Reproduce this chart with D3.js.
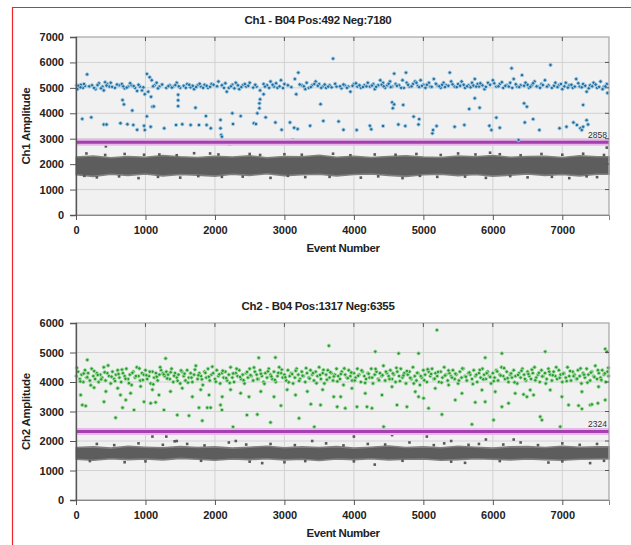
<!DOCTYPE html>
<html>
<head>
<meta charset="utf-8">
<script src="https://cdn.jsdelivr.net/npm/d3@7"></script>
<style>
  body { margin: 0; background: #fff; }
  svg { display: block; }
  text { font-family: "Liberation Sans", Arial, sans-serif; }
</style>
</head>
<body>
<div id="chart"></div>
<script>
// ---- data ----
const totalEvents = 7672;
const xTicks = [0, 1000, 2000, 3000, 4000, 5000, 6000, 7000];
const ch1YTicks = [0, 1000, 2000, 3000, 4000, 5000, 6000, 7000];
const ch2YTicks = [0, 1000, 2000, 3000, 4000, 5000, 6000];

const ch1Title = "Ch1 - B04 Pos:492 Neg:7180";
const ch2Title = "Ch2 - B04 Pos:1317 Neg:6355";
const ch1Threshold = 2858;
const ch2Threshold = 2324;

// negative droplet band, one value per 250 events
const negBinSize = 250;
const ch1NegHigh = [2280,2320,2250,2300,2270,2340,2290,2260,2310,2280,2330,2250,2300,2290,2350,2270,2310,2260,2300,2330,2280,2260,2320,2290,2340,2270,2300,2310,2260,2330,2290];
const ch1NegLow  = [1580,1520,1600,1560,1610,1540,1590,1570,1530,1600,1560,1620,1550,1580,1600,1540,1590,1610,1560,1520,1580,1600,1550,1590,1530,1570,1610,1560,1590,1540,1600];
const ch2NegHigh = [1780,1800,1760,1820,1790,1770,1810,1780,1800,1760,1790,1820,1770,1800,1780,1810,1760,1790,1830,1780,1800,1770,1820,1790,1760,1800,1810,1780,1820,1790,1800];
const ch2NegLow  = [1380,1350,1400,1370,1390,1360,1410,1380,1350,1390,1370,1400,1360,1380,1340,1390,1370,1400,1360,1380,1390,1350,1370,1400,1380,1360,1390,1370,1350,1380,1390];

// stray negative droplets [event, amplitude]
const ch1NegOut = [[430,2700],[2210,2780],[2330,2900],[3120,2950],[1930,2420],[3480,2900],[5960,2450],[6340,2900],[7640,2650],
  [300,1480],[900,1450],[1500,1470],[2100,1500],[2800,1460],[3300,1490],[4100,1470],[4700,1450],[5200,1500],[5900,1460],[6500,1480],[7100,1450],[7500,1490],
  [120,1540],[620,1520],[1180,1500],[1760,1530],[2400,1510],[3050,1540],[3650,1500],[4350,1520],[4950,1540],[5600,1510],[6250,1530],[6850,1500],[7350,1520],
  [150,2420],[700,2400],[1200,2380],[1700,2430],[2500,2400],[3000,2390],[3700,2410],[4300,2380],[4900,2400],[5500,2420],[6100,2390],[6700,2400],[7300,2410],
  [420,2360],[980,2370],[1450,2350],[2050,2380],[2650,2360],[3250,2370],[3950,2350],[4600,2370],[5250,2360],[5750,2380],[6400,2350],[7000,2370],[7600,2360]];
const ch2NegOut = [[1100,2150],[1300,2150],[1420,1990],[1450,2000],[2300,2000],[3400,2000],[4000,2150],[4550,2200],[5050,2150],[5400,2000],[5900,2050],[6300,2050],
  [2680,1250],[3000,1280],[4300,1200],[700,1280],[5600,1260],[6800,1270],[7400,1250],
  [300,1900],[900,1920],[1600,1900],[2200,1950],[2800,1900],[3600,1920],[4200,1900],[4800,1950],[5300,1920],[5800,1900],[6400,1950],[7000,1920],[7500,1900],
  [550,1860],[1250,1870],[1850,1850],[2450,1880],[3150,1860],[3850,1850],[4450,1880],[5150,1860],[5650,1870],[6150,1880],[6650,1860],[7250,1870],
  [200,1320],[1000,1310],[1800,1330],[2500,1300],[3300,1320],[4000,1310],[4700,1330],[5400,1300],[6100,1320],[7000,1310],[7600,1330]];

// positive droplets, channel 1 [event, amplitude]
const ch1Pos = [
  [10,5100],[40,5050],[70,5120],[100,5000],[130,5080],[20,4950],[160,5530],
  [230,5100],[280,4950],[330,5180],[380,5050],[420,5220],[450,5150],[480,5050],[500,5200],[400,4900],
  [560,5000],[620,5100],[660,5150],[700,4980],[750,5050],[800,5100],[850,5000],[880,4880],[920,5050],[950,4900],[990,4750],
  [1020,5550],[1060,5420],[1090,5300],[1130,5100],[1160,5200],[1200,5050],[1040,4850],[1080,4650],
  [1300,5000],[1350,5100],[1400,5050],[1450,5200],[1500,5000],[1550,5080],[1600,5150],[1650,5020],[1700,4950],[1750,5100],[1800,5050],[1850,5120],[1900,5000],[1950,5150],
  [2050,5250],[2100,5100],[2150,5180],[2200,5000],[2250,5120],[2300,5200],[2350,4950],[2400,5100],[2450,5050],[2500,5200],[2170,4850],
  [2600,5050],[2650,4900],[2700,5150],[2750,5100],[2800,5250],[2850,5050],[2900,5000],[2950,5300],[3000,5150],[2700,4750],[2650,4550],
  [3150,5350],[3200,5600],[3250,5100],[3300,4950],[3350,5000],[3400,5100],[3450,5250],[3500,5150],[3550,5050],[3600,5000],[3650,5100],[3700,6150],[3750,5050],[3170,4750],
  [90,3780],[220,3840],[400,3560],[440,3560],[640,3610],[740,3570],[825,3540],[880,3350],[980,3510],[990,3340],[1075,3470],
  [670,4520],[690,4350],[810,4110],[1020,3880],[1100,4260],[1120,4270],[1270,3410],[1440,3540],[1530,3570],
  [1470,4730],[1470,4510],[1470,4280],[1650,3540],[1720,4220],[1770,3540],[1870,3890],[1880,3540],[1940,3410],
  [2080,3740],[2080,3410],[2090,3150],[2100,3080],[2250,4000],[2260,3580],[2370,3890],[2560,3610],[2590,3580],
  [2610,4000],[2640,4390],[2640,4200],[2730,3840],[2870,3640],[2960,3350],[3080,3640],[3140,3430],[3190,3380],
  [3370,3510],[3520,4360],[3560,3700],[3780,3680],
  [3820,4980],[3870,5100],[3920,5050],[3950,4850],[4000,5150],[4050,5050],[4100,5000],[4150,5100],[4200,5200],[4230,5050],
  [4280,5150],[4300,4950],[4350,5100],[4380,5300],[4420,5200],[4450,5000],[4480,5100],[4520,5250],[4550,5050],[4580,5560],
  [4600,5150],[4650,5100],[4700,5300],[4720,5000],[4750,5600],[4760,5200],[4800,5050],[4850,5150],[4880,5250],[4920,5080],
  [4960,5300],[5000,5120],[5030,5000],[5080,5200],[5100,5050],[5150,5350],[5200,5100],[5250,5000],[5290,5200],[5330,5100],
  [5380,5600],[5400,5250],[5450,5050],[5500,5150],[5550,5250],[5600,5000],[5650,5100],[5700,5200],[5740,5350],[5780,5150],
  [5800,5050],[5850,5100],[5880,4950],[5930,5200],[6000,5300],[6050,5050],[6100,5150],[6150,5000],[6200,5100],[6250,5200],
  [6300,5350],[6350,5050],[6400,5100],[6420,5500],[6470,5200],[6520,5000],[6560,5100],[6600,5250],[6650,5050],[6700,5150],
  [6750,5300],[6800,5100],[6830,5900],[6850,5000],[6900,5200],[6950,5100],[7000,4950],[7050,5200],[7100,5100],[7150,5000],
  [7200,5350],[7250,5050],[7300,5150],[7350,4850],[7400,5100],[7450,5200],[7500,5000],[7550,5250],[7600,5050],[7640,5150],[7650,4800],
  [4550,4430],[4580,4350],[4710,4330],[4560,4200],[5740,4590],[5660,4170],[5810,4220],[6270,5770],[6450,4390],[6490,4260],[7300,4330],
  [3850,3350],[4040,3340],[4230,3510],[4250,3370],[4420,3500],[4640,3560],[4740,3500],[4860,3870],[4940,3770],[4930,3560],
  [5130,3210],[5140,3340],[5190,3500],[5450,3470],[5590,3540],[5950,3510],[5980,3340],[6050,3830],[6100,3430],[6370,2950],
  [6460,3640],[6580,3770],[6670,3340],[6960,3410],[7060,3470],[7160,3640],[7210,3540],[7260,3410],[7300,3470],[7350,3730],[7370,3560],[7280,3340],
  // second pass through the dense 5000 cluster
  [35,5080],[65,5020],[115,5150],[190,5060],[260,5000],[310,5110],[360,4980],[440,5090],[520,5040],[590,5130],[680,5060],[730,5010],
  [780,5180],[830,5070],[900,5120],[970,5020],[1110,5060],[1180,4980],[1240,5130],[1330,5070],[1380,5010],[1430,5110],[1480,5060],
  [1580,5000],[1630,5120],[1680,5080],[1730,5030],[1780,5160],[1830,5000],[1880,5080],[1930,5040],[1980,5120],[2030,5060],[2130,5000],
  [2230,5060],[2280,4980],[2330,5100],[2380,5030],[2430,5150],[2480,5080],[2550,5010],[2580,5120],[2720,5050],[2780,5000],[2830,5120],
  [2880,5180],[2930,5060],[2980,4990],[3050,5100],[3100,5030],[3220,5130],[3280,5060],[3320,5200],[3380,5030],[3430,5150],[3480,5080],
  [3530,5000],[3580,5130],[3630,5050],[3680,5020],[3730,5160],[3800,5060],[3850,5130],[3900,5000],[3980,5080],[4030,5180],[4080,5100],
  [4130,5030],[4180,5060],[4260,5090],[4320,5040],[4400,5120],[4430,5060],[4500,5160],[4530,5030],[4620,5080],[4680,5000],[4780,5120],
  [4830,5060],[4900,5200],[4940,5030],[4980,5080],[5050,5120],[5120,5040],[5180,5160],[5230,5060],[5270,5120],[5310,5030],[5360,5080],
  [5420,5140],[5480,5030],[5530,5080],[5580,5120],[5630,5060],[5680,5020],[5720,5090],[5760,5050],[5820,5180],[5900,5040],[5960,5120],
  [6020,5180],[6080,5060],[6130,5220],[6180,5080],[6230,5050],[6280,5000],[6330,5140],[6380,5030],[6450,5080],[6500,5120],[6540,5040],
  [6580,5180],[6630,5060],[6680,5000],[6720,5110],[6780,5050],[6880,5080],[6930,5030],[6980,5150],[7030,5060],[7080,5010],[7130,5120],
  [7180,5050],[7230,5180],[7280,5020],[7330,5080],[7380,4980],[7430,5060],[7480,5130],[7530,5040],[7580,4950],[7620,5060]
];

// positive droplets, channel 2 [event, amplitude]
const ch2Pos = [
  [5,4200],[30,4350],[55,4100],[80,4250],[105,4000],[130,4400],[150,4150],[175,4300],[200,4050],[225,4450],[250,4200],[275,4100],[300,4300],
  [325,4000],[350,4250],[375,4150],[400,4500],[425,4050],[450,4300],[475,4200],[500,3950],[525,4350],[550,4100],[575,4250],[600,4400],
  [625,4150],[650,4000],[675,4300],[700,4200],[725,4450],[750,4100],[775,4250],[800,3900],[825,4350],[850,4150],[875,4500],[900,4200],
  [925,4050],[950,4300],[975,4250],[1000,4400],[1025,4100],[1050,4200],[1075,3950],[1100,4350],[1125,4150],[1150,4300],[1175,4050],[1200,4250],
  [1225,4400],[1250,4300],[1275,4200],[1300,4350],[1325,4250],[1350,4100],[1375,4450],[1400,4000],[1425,4300],[1450,4150],[1475,4250],[1500,3950],
  [1525,4350],[1550,4200],[1575,4050],[1600,4400],[1625,4150],[1650,4300],[1675,4000],[1700,4250],[1725,4550],[1750,4100],[1775,4300],[1800,4200],
  [1825,3900],[1850,4350],[1875,4150],[1900,4450],[1925,4050],[1950,4250],[1975,4300],[2000,4100],[2025,4400],[2050,4200],[2075,3950],[2100,4300],
  [2125,4150],[2150,4350],[2175,4050],[2200,4250],[2225,4500],[2250,4150],[2275,4000],[2300,4300],[2325,4200],[2350,4400],[2375,4100],[2400,4250],
  [2425,3950],[2450,4300],[2475,4150],[2500,4450],[2525,4200],[2550,4050],[2575,4350],[2600,4250],[2625,4100],[2650,4400],[2675,4200],[2700,4000],
  [2725,4300],[2750,4150],[2775,4450],[2800,4250],[2825,4100],[2850,4350],[2875,4000],[2900,4200],[2925,4500],[2950,4300],[2975,4150],[3000,4250],
  [3025,4050],[3050,4400],[3075,4200],[3100,4300],[3125,3950],[3150,4150],[3175,4450],[3200,4250],[3225,4100],[3250,4350],[3275,4200],[3300,4000],
  [3325,4300],[3350,4150],[3375,4400],[3400,4250],[3425,4050],[3450,4350],[3475,4200],[3500,4500],[3525,4100],[3550,4300],[3575,3950],[3600,4250],
  [3625,4400],[3650,4150],[3675,4300],[3700,4050],[3725,4250],[3750,4450],[3775,4200],[3800,4100],[3825,4350],[3850,3900],[3875,4250],[3900,4150],
  [3925,4400],[3950,4200],[3975,4050],[4000,4300],[4025,4150],[4050,4450],[4075,4250],[4100,4000],[4125,4350],[4150,4200],[4175,4100],[4200,4300],
  [4225,4150],[4250,4450],[4275,3950],[4300,4250],[4325,4350],[4350,4100],[4375,4300],[4400,4200],[4425,4550],[4450,4050],[4475,4300],[4500,4200],
  [4525,4400],[4550,4100],[4575,4250],[4600,4000],[4625,4350],[4650,4200],[4675,4450],[4700,4150],[4725,4300],[4750,3950],[4775,4250],[4800,4350],
  [4825,4100],[4850,4500],[4875,4200],[4900,4050],[4925,4300],[4950,3900],[4975,4150],[5000,4400],[5025,4250],[5050,4000],[5075,4350],[5100,4200],
  [5125,4450],[5150,4100],[5175,4300],[5200,4200],[5225,4000],[5250,4350],[5275,4150],[5300,4500],[5325,4250],[5350,4050],[5375,4300],[5400,4200],
  [5425,4400],[5450,4100],[5475,4250],[5500,3950],[5525,4350],[5550,4150],[5575,4450],[5600,4200],[5625,4050],[5650,4300],[5675,4250],[5700,4100],
  [5725,4400],[5750,4200],[5775,4000],[5800,4300],[5825,4150],[5850,4450],[5875,4250],[5900,4100],[5925,4350],[5950,4200],[5975,3950],[6000,4300],
  [6025,4150],[6050,4400],[6075,4050],[6100,4250],[6125,4500],[6150,4200],[6175,4100],[6200,4350],[6225,4000],[6250,4250],[6275,4150],[6300,4400],
  [6325,4200],[6350,3950],[6375,4300],[6400,4150],[6425,4450],[6450,4250],[6475,4050],[6500,4350],[6525,4200],[6550,4100],[6575,4300],[6600,4500],
  [6625,4150],[6650,4250],[6675,4000],[6700,4400],[6725,4200],[6750,4300],[6775,4100],[6800,4450],[6825,4250],[6850,4050],[6875,4350],[6900,4200],
  [6925,4100],[6950,4400],[6975,4250],[7000,4000],[7025,4300],[7050,4150],[7075,4500],[7100,4200],[7125,4050],[7150,4350],[7175,4250],[7200,4100],
  [7225,4400],[7250,4200],[7275,3950],[7300,4300],[7325,4150],[7350,4450],[7375,4250],[7400,4050],[7425,4350],[7450,4200],[7475,4550],[7500,4100],
  [7525,4300],[7550,4150],[7575,4400],[7600,4250],[7625,4000],[7650,4350],[7665,4200],
  // second pass through the dense 4200 band
  [12,4480],[62,4020],[112,4290],[162,4160],[212,3890],[262,4370],[312,4240],[362,4090],[412,4330],[462,4560],
  [512,4180],[562,4030],[612,4270],[662,4420],[712,4110],[762,3960],[812,4310],[862,4200],[912,4460],[962,4070],
  [1012,4230],[1062,4350],[1112,3920],[1162,4180],[1212,4500],[1262,4260],[1312,4120],[1362,4330],[1412,4210],[1462,4040],
  [1512,4390],[1562,4280],[1612,3980],[1662,4150],[1712,4420],[1762,4230],[1812,4090],[1862,4310],[1912,4180],[1962,4520],
  [2012,4010],[2062,4260],[2112,4380],[2162,4130],[2212,3970],[2262,4290],[2312,4450],[2362,4170],[2412,4060],[2462,4340],
  [2512,4230],[2562,4490],[2612,4100],[2662,4280],[2712,3940],[2762,4360],[2812,4190],[2862,4070],[2912,4310],[2962,4420],
  [3012,4160],[3062,3990],[3112,4270],[3162,4380],[3212,4040],[3262,4210],[3312,4470],[3362,4120],[3412,4300],[3462,3960],
  [3512,4240],[3562,4410],[3612,4080],[3662,4330],[3712,4190],[3762,4020],[3812,4270],[3862,4460],[3912,4130],[3962,4320],
  [4012,4050],[4062,4210],[4112,4390],[4162,3970],[4212,4280],[4262,4150],[4312,4440],[4362,4060],[4412,4230],[4462,4350],
  [4512,4100],[4562,4290],[4612,4480],[4662,4030],[4712,4220],[4762,4370],[4812,4140],[4862,3950],[4912,4310],[4962,4200],
  [5012,4060],[5062,4430],[5112,4270],[5162,4110],[5212,4340],[5262,3980],[5312,4220],[5362,4390],[5412,4150],[5462,4280],
  [5512,4050],[5562,4460],[5612,4180],[5662,4320],[5712,3930],[5762,4250],[5812,4410],[5862,4090],[5912,4300],[5962,4170],
  [6012,4030],[6062,4360],[6112,4220],[6162,4470],[6212,4130],[6262,4290],[6312,3990],[6362,4240],[6412,4380],[6462,4100],
  [6512,4270],[6562,4420],[6612,4060],[6662,4310],[6712,4190],[6762,3950],[6812,4350],[6862,4230],[6912,4500],[6962,4140],
  [7012,4280],[7062,4030],[7112,4370],[7162,4200],[7212,4110],[7262,4460],[7312,4250],[7362,3980],[7412,4320],[7462,4170],
  [7512,4400],[7562,4070],[7612,4290],[7662,4480],
  // upper strays
  [163,4750],[1290,4800],[2630,4820],[2870,4830],[3640,5230],[5195,5760],[4644,4970],[4931,4970],[5890,4825],[6130,4970],[6754,5030],[7618,5120],[7642,5030],[4308,5030],
  // middle strays
  [67,3560],[260,3810],[430,3680],[600,3790],[786,3620],[930,3850],[1100,3740],[1194,3560],[1360,3680],[1530,3790],[1675,3500],[1795,3740],
  [1915,3560],[2105,3500],[2225,3740],[2370,3620],[2490,3500],[2660,3680],[2850,3500],[3040,3740],[3160,3560],[3330,3680],[3550,3740],[3710,3500],
  [3972,3785],[4164,3615],[4404,3560],[4548,3840],[4884,3672],[5171,3785],[5363,3898],[5555,3615],[5843,3728],[6035,3672],[6322,3615],[6538,3728],
  [6826,3728],[6994,3500],[7282,3672],[7522,3840],
  // lower strays
  [91,3220],[139,3190],[570,2790],[403,3330],[640,3560],[670,3130],[716,3390],[835,3050],[979,3330],[1075,3280],[1146,3310],[1266,3050],
  [1458,2880],[1626,2860],[1770,3130],[1818,2690],[1890,3130],[1938,3130],[2080,3220],[2100,3050],[2260,2480],[2460,2880],[2610,2900],[2800,2630],
  [2950,3200],[3210,2770],[3380,3250],[3430,2480],[3520,3220],[3760,3160],[3810,3500],
  [3876,3110],[4044,3160],[4188,3160],[4260,3110],[4428,2485],[4620,3220],[4763,3160],[4931,3500],[5003,3450],[5075,3110],[5267,2900],[5459,3390],
  [5699,2565],[5747,3310],[5890,3330],[6010,2710],[6130,3160],[6226,3280],[6442,3580],[6490,3500],[6586,3560],[6682,2825],[6706,2710],[6970,2485],
  [7090,3220],[7234,3200],[7282,3090],[7402,3220],[7426,3240],[7512,3280],[7618,3390]
];

// ---- drawing ----
const width = 631, height = 545;
const svg = d3.select("#chart").append("svg")
    .attr("width", width)
    .attr("height", height);

// red frame of the scanned figure
svg.append("line").attr("x1", 12).attr("y1", 7.5).attr("x2", width).attr("y2", 7.5)
    .attr("stroke", "#f0252a").attr("stroke-width", 1.2);
svg.append("line").attr("x1", 12.5).attr("y1", 7).attr("x2", 12.5).attr("y2", height)
    .attr("stroke", "#f0252a").attr("stroke-width", 1.2);

function drawPanel(cfg) {
    const x = d3.scaleLinear().domain([0, totalEvents]).range([cfg.left, cfg.right]);
    const y = d3.scaleLinear().domain([0, cfg.yTicks[cfg.yTicks.length - 1]]).range([cfg.bottom, cfg.top]);
    const g = svg.append("g");

    // plot background
    g.append("rect")
        .attr("x", cfg.left).attr("y", cfg.top)
        .attr("width", cfg.right - cfg.left).attr("height", cfg.bottom - cfg.top)
        .attr("fill", "#f1f1f1");

    // grid
    g.selectAll(".hgrid").data(cfg.yTicks.slice(1, -1)).enter().append("line")
        .attr("x1", cfg.left).attr("x2", cfg.right)
        .attr("y1", d => y(d)).attr("y2", d => y(d))
        .attr("stroke", "#d2d2d2").attr("stroke-width", 1);
    g.selectAll(".vgrid").data(xTicks.slice(1)).enter().append("line")
        .attr("y1", cfg.top).attr("y2", cfg.bottom)
        .attr("x1", d => x(d)).attr("x2", d => x(d))
        .attr("stroke", "#d2d2d2").attr("stroke-width", 1);

    // negative droplet band (jagged edges, like the dense cloud of dots)
    const band = cfg.negHigh.map((h, i) => ({ e: i * negBinSize, hi: h, lo: cfg.negLow[i] }));
    band.push({ e: totalEvents, hi: cfg.negHigh[cfg.negHigh.length - 1], lo: cfg.negLow[cfg.negLow.length - 1] });
    const area = d3.area()
        .x(d => x(d.e))
        .y0(d => y(d.lo))
        .y1(d => y(d.hi))
        .curve(d3.curveLinear);
    g.append("path").datum(band)
        .attr("d", area)
        .attr("fill", "#5d5d5d")
        .attr("stroke", "#808080")
        .attr("stroke-width", 1.6)
        .attr("stroke-linejoin", "round");

    g.selectAll(".neg").data(cfg.negOut).enter().append("rect")
        .attr("x", d => x(d[0]) - 1.3).attr("y", d => y(d[1]) - 1.3)
        .attr("width", 2.6).attr("height", 2.6)
        .attr("fill", "#5a5a5a");

    // threshold
    g.append("line")
        .attr("x1", cfg.left).attr("x2", cfg.right)
        .attr("y1", y(cfg.threshold)).attr("y2", y(cfg.threshold))
        .attr("stroke", "#e7b8ea").attr("stroke-width", 7);
    g.append("line")
        .attr("x1", cfg.left).attr("x2", cfg.right)
        .attr("y1", y(cfg.threshold)).attr("y2", y(cfg.threshold))
        .attr("stroke", "#a43fae").attr("stroke-width", 3);
    g.append("text")
        .attr("x", cfg.right - 2).attr("y", y(cfg.threshold) - 4)
        .attr("text-anchor", "end")
        .attr("font-size", 8.5)
        .attr("fill", "#333")
        .text(cfg.threshold);

    // positive droplets
    g.selectAll(".pos").data(cfg.pos).enter().append("circle")
        .attr("cx", d => x(d[0])).attr("cy", d => y(d[1]))
        .attr("r", 1.7)
        .attr("fill", cfg.color)
        .attr("stroke", cfg.halo)
        .attr("stroke-width", 0.9);

    // frame
    g.append("rect")
        .attr("x", cfg.left).attr("y", cfg.top)
        .attr("width", cfg.right - cfg.left).attr("height", cfg.bottom - cfg.top)
        .attr("fill", "none").attr("stroke", "#a5a5a5").attr("stroke-width", 1.2);

    // small inner ticks on right and top
    g.selectAll(".rtick").data(cfg.yTicks.slice(1, -1)).enter().append("line")
        .attr("x1", cfg.right - 4).attr("x2", cfg.right)
        .attr("y1", d => y(d)).attr("y2", d => y(d))
        .attr("stroke", "#555");
    g.selectAll(".ttick").data(xTicks.slice(1)).enter().append("line")
        .attr("y1", cfg.top).attr("y2", cfg.top + 4)
        .attr("x1", d => x(d)).attr("x2", d => x(d))
        .attr("stroke", "#555");

    // axes
    const yAxis = g.append("g")
        .attr("transform", `translate(${cfg.left},0)`)
        .call(d3.axisLeft(y).tickValues(cfg.yTicks).tickSize(6).tickPadding(6).tickFormat(d3.format("d")));
    yAxis.select(".domain").attr("stroke", "#555").attr("stroke-width", 1.3);
    yAxis.selectAll(".tick line").attr("stroke", "#555");
    yAxis.selectAll("text").attr("font-size", 11).attr("font-weight", "bold").attr("fill", "#222");

    const xAxis = g.append("g")
        .attr("transform", `translate(0,${cfg.bottom})`)
        .call(d3.axisBottom(x).tickValues(xTicks).tickSize(5).tickPadding(6).tickFormat(d3.format("d")));
    xAxis.select(".domain").attr("stroke", "#888");
    xAxis.selectAll(".tick line").attr("stroke", "#555");
    xAxis.selectAll("text").attr("font-size", 11).attr("font-weight", "bold").attr("fill", "#222");

    // titles
    g.append("text")
        .attr("x", 318).attr("y", cfg.top - 13)
        .attr("text-anchor", "middle")
        .attr("font-size", 11.5).attr("font-weight", "bold").attr("fill", "#222")
        .attr("letter-spacing", -0.3)
        .text(cfg.title);
    g.append("text")
        .attr("x", 343).attr("y", cfg.bottom + 37)
        .attr("text-anchor", "middle")
        .attr("font-size", 11.5).attr("font-weight", "bold").attr("fill", "#222")
        .attr("letter-spacing", -0.4)
        .text("Event Number");
    g.append("text")
        .attr("transform", `translate(30,${(cfg.top + cfg.bottom) / 2}) rotate(-90)`)
        .attr("text-anchor", "middle")
        .attr("font-size", 11.5).attr("font-weight", "bold").attr("fill", "#222")
        .attr("letter-spacing", -0.3)
        .text(cfg.yLabel);
}

drawPanel({
    title: ch1Title, yLabel: "Ch1 Amplitude",
    left: 76, right: 609, top: 37, bottom: 215,
    yTicks: ch1YTicks, threshold: ch1Threshold,
    negHigh: ch1NegHigh, negLow: ch1NegLow, negOut: ch1NegOut,
    pos: ch1Pos, color: "#276d9b", halo: "#a6d0ea"
});

drawPanel({
    title: ch2Title, yLabel: "Ch2 Amplitude",
    left: 76, right: 609, top: 323, bottom: 500,
    yTicks: ch2YTicks, threshold: ch2Threshold,
    negHigh: ch2NegHigh, negLow: ch2NegLow, negOut: ch2NegOut,
    pos: ch2Pos, color: "#2c9a32", halo: "#a8dfa8"
});
</script>
</body>
</html>
